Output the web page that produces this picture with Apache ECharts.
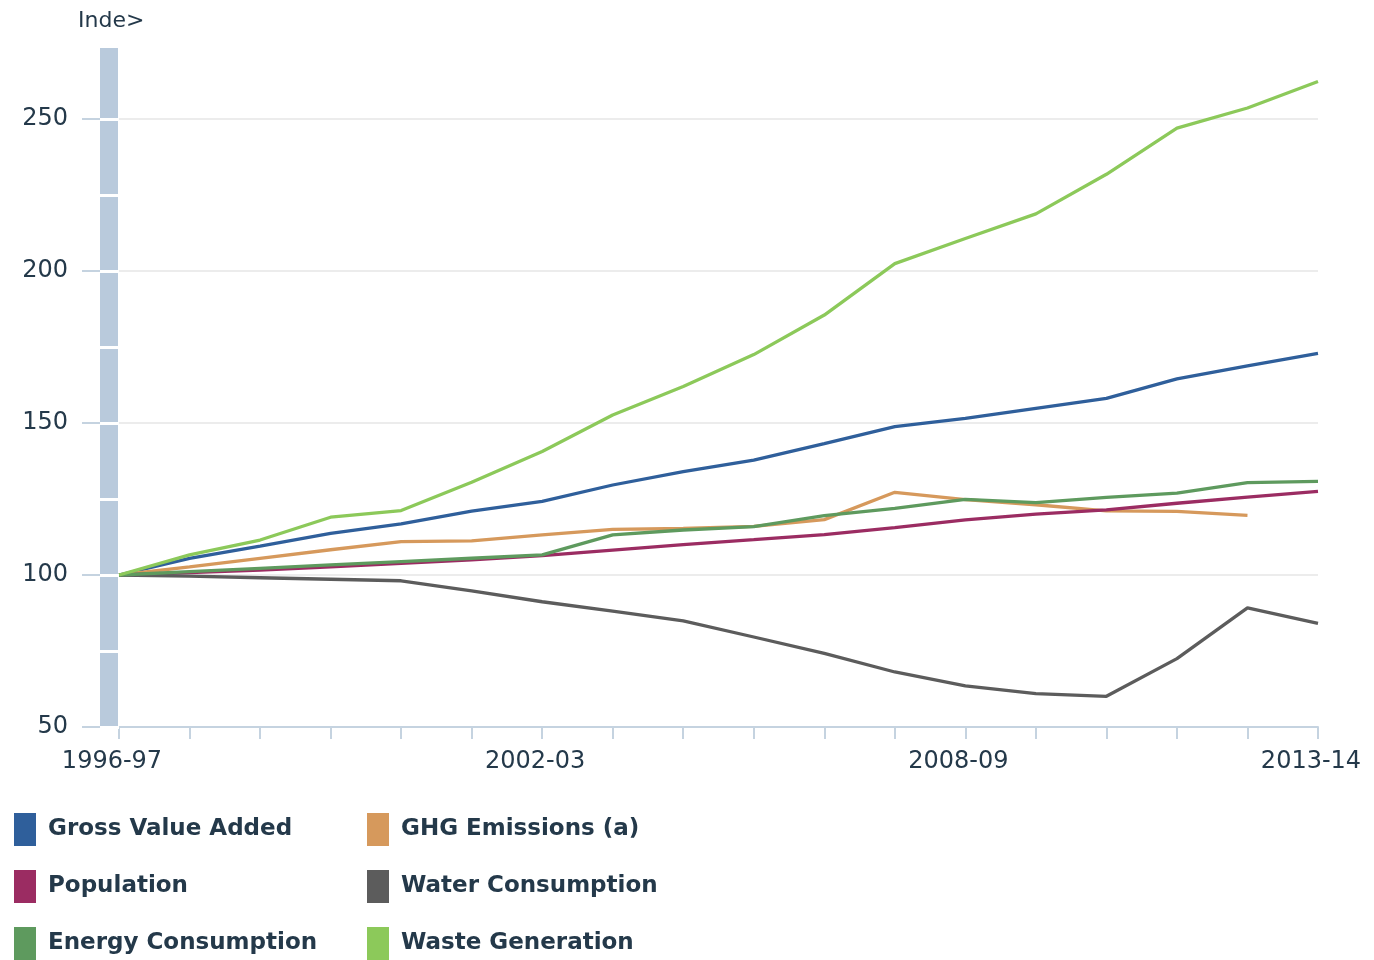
<!DOCTYPE html>
<html>
<head>
<meta charset="utf-8">
<script src="https://cdn.jsdelivr.net/npm/echarts@6/dist/echarts.min.js"></script>
<style>
html,body{margin:0;padding:0;background:#fff;}
#chart{width:1374px;height:960px;}
</style>
</head>
<body>
<div id="chart"></div>
<script>
var categories = ['1996-97','1997-98','1998-99','1999-00','2000-01','2001-02','2002-03','2003-04','2004-05','2005-06','2006-07','2007-08','2008-09','2009-10','2010-11','2011-12','2012-13','2013-14'];
var shownLabels = [0, 6, 12, 17];
var gva = [100, 105.5, 109.5, 113.7, 116.8, 121, 124.2, 129.6, 134, 137.8, 143.2, 148.8, 151.5, 154.8, 158.1, 164.5, 168.8, 172.9];
var ghg = [100, 102.7, 105.5, 108.3, 111, 111.2, 113.2, 115, 115.3, 116, 118.2, 127.2, 124.8, 123.1, 121.1, 120.9, 119.6, null];
var population = [100, 100.8, 101.6, 102.7, 103.8, 105, 106.4, 108.2, 110, 111.6, 113.3, 115.6, 118.1, 120, 121.4, 123.6, 125.6, 127.5];
var water = [100, 99.6, 99.1, 98.6, 98.1, 94.8, 91.2, 88.1, 84.9, 79.6, 74.2, 68.1, 63.5, 61, 60.1, 72.5, 89.2, 84.1];
var energy = [100, 101.1, 102.2, 103.3, 104.4, 105.5, 106.6, 113.2, 114.8, 115.9, 119.5, 121.9, 124.9, 123.8, 125.5, 126.9, 130.4, 130.8];
var waste = [100, 106.6, 111.5, 119, 121.2, 130.5, 140.6, 152.6, 162, 172.5, 185.5, 202.4, 210.7, 218.8, 231.8, 247, 253.6, 262.3];

var yMin = 50, yMax = 274;
var textColor = '#24394a';
var font = 'DejaVu Sans, Verdana, sans-serif';

function line(name, data, color) {
  return {
    name: name, type: 'line', data: data, yAxisIndex: 0,
    symbol: 'none', connectNulls: false,
    lineStyle: { color: color, width: 3.3 },
    itemStyle: { color: color }
  };
}

var legendCommon = {
  orient: 'vertical', top: 808, height: 160, icon: 'rect',
  itemWidth: 22, itemHeight: 33, itemGap: 24,
  textStyle: { fontSize: 23, fontWeight: 'bold', color: textColor, fontFamily: font, padding: [0, 0, 0, 7] }
};

var chart = echarts.init(document.getElementById('chart'));
chart.setOption({
  animation: false,
  backgroundColor: '#fff',
  title: {
    text: 'Inde>', left: 73, top: 5,
    textStyle: { fontSize: 22, fontWeight: 'normal', color: textColor, fontFamily: font }
  },
  grid: { left: 119, right: 56, top: 46, bottom: 233, containLabel: false },
  legend: [
    Object.assign({ left: 9, data: ['Gross Value Added', 'Population', 'Energy Consumption'] }, legendCommon),
    Object.assign({ left: 362, data: ['GHG Emissions (a)', 'Water Consumption', 'Waste Generation'] }, legendCommon)
  ],
  xAxis: {
    type: 'category', data: categories, boundaryGap: false,
    axisLine: { show: true, lineStyle: { color: '#c5d3e0', width: 2 } },
    axisTick: { show: true, interval: 0, length: 12, lineStyle: { color: '#c5d3e0', width: 2 } },
    axisLabel: {
      interval: function (i) { return shownLabels.indexOf(i) >= 0; },
      fontSize: 24, color: textColor, fontFamily: font, margin: 23,
      padding: [0, 14, 0, 0]
    },
    splitLine: { show: false }
  },
  yAxis: [
    {
      type: 'value', min: yMin, max: yMax, interval: 50, position: 'left', offset: 19,
      axisLine: { show: false },
      axisTick: { show: true, length: 18, lineStyle: { color: '#c5d3e0', width: 2 } },
      axisLabel: { fontSize: 24, color: textColor, fontFamily: font, margin: 32,
        showMaxLabel: false, padding: [4, 0, 0, 0] },
      splitLine: { show: true, showMaxLine: false, lineStyle: { color: '#ececec', width: 2 } }
    },
    {
      type: 'value', min: yMin, max: yMax, interval: 50, position: 'left', offset: 10,
      axisLine: { show: true, onZero: false, lineStyle: { color: '#b9cadc', width: 18, cap: 'butt' } },
      axisTick: { show: false }, axisLabel: { show: false }, splitLine: { show: false }
    },
    {
      type: 'value', min: yMin, max: yMax, interval: 25, position: 'left', offset: 0, z: 5,
      axisLine: { show: false },
      axisTick: { show: true, length: 19, lineStyle: { color: '#ffffff', width: 3 } },
      axisLabel: { show: false }, splitLine: { show: false }
    }
  ],
  series: [
    line('Gross Value Added', gva, '#2f5f9b'),
    line('GHG Emissions (a)', ghg, '#d6995c'),
    line('Population', population, '#9b2c62'),
    line('Water Consumption', water, '#5c5c5c'),
    line('Energy Consumption', energy, '#5e9a5e'),
    line('Waste Generation', waste, '#8cc95a')
  ]
});
</script>
</body>
</html>
